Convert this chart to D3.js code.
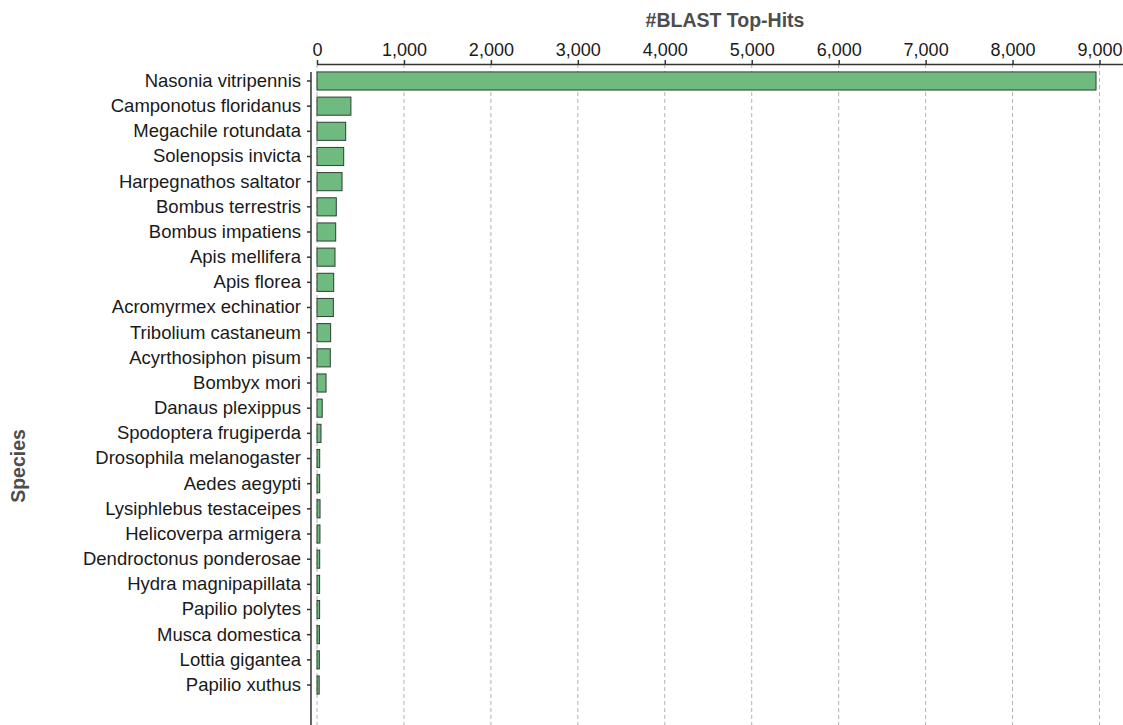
<!DOCTYPE html>
<html>
<head>
<meta charset="utf-8">
<script src="https://cdn.jsdelivr.net/npm/d3@7"></script>
<style>
  html, body { margin: 0; padding: 0; background: #fff; }
  svg { display: block; font-family: "Liberation Sans", Arial, sans-serif; }
</style>
</head>
<body>
<svg id="chart" width="1123" height="725"></svg>
<script>
// Species ordered by number of BLAST top hits
const species = [
  "Nasonia vitripennis", "Camponotus floridanus", "Megachile rotundata",
  "Solenopsis invicta", "Harpegnathos saltator", "Bombus terrestris",
  "Bombus impatiens", "Apis mellifera", "Apis florea", "Acromyrmex echinatior",
  "Tribolium castaneum", "Acyrthosiphon pisum", "Bombyx mori",
  "Danaus plexippus", "Spodoptera frugiperda", "Drosophila melanogaster",
  "Aedes aegypti", "Lysiphlebus testaceipes", "Helicoverpa armigera",
  "Dendroctonus ponderosae", "Hydra magnipapillata", "Papilio polytes",
  "Musca domestica", "Lottia gigantea", "Papilio xuthus"
];
const topHits = [
  8960, 390, 330, 307, 288, 222, 215, 207, 192, 188,
  157, 153, 104, 60, 46, 31, 31, 35, 34, 31,
  30, 30, 28, 27, 25
];
const xTicks = [0, 1000, 2000, 3000, 4000, 5000, 6000, 7000, 8000, 9000];

const svg = d3.select("#chart");
const W = 1123, H = 725;
const x0 = 317, x1 = 1099.5;
const axisY = 64, yAxisX = 311;

const x = d3.scaleLinear().domain([0, 9000]).range([x0, x1]);
const y = d3.scaleBand().domain(species).range([68.4, 697.6])
  .paddingInner(0.28).paddingOuter(0.14);

// dashed vertical grid
svg.append("g").selectAll("line").data(xTicks).join("line")
  .attr("x1", d => x(d)).attr("x2", d => x(d))
  .attr("y1", axisY).attr("y2", H)
  .attr("stroke", "#b3b3b3").attr("stroke-width", 1)
  .attr("stroke-dasharray", "4,3");

// bars
svg.append("g").selectAll("rect").data(species).join("rect")
  .attr("x", x(0))
  .attr("y", d => y(d))
  .attr("width", (d, i) => x(topHits[i]) - x(0))
  .attr("height", y.bandwidth())
  .attr("fill", "#6fba7e")
  .attr("stroke", "#2f3f33")
  .attr("stroke-width", 1);

// top axis
const gx = svg.append("g").attr("transform", `translate(0,${axisY})`)
  .call(d3.axisTop(x).tickValues(xTicks).tickFormat(d3.format(",")).tickSize(4).tickPadding(4).tickSizeOuter(0));
gx.select(".domain").remove();
gx.append("line").attr("x1", x0).attr("x2", W).attr("y1", 0.5).attr("y2", 0.5)
  .attr("stroke", "#333").attr("stroke-width", 1.5);
gx.selectAll(".tick line").attr("stroke", "#333").attr("stroke-width", 1.5);
gx.selectAll(".tick text").attr("font-size", 18).attr("fill", "#1a1a1a")
  .attr("font-family", "'Liberation Sans', Arial, sans-serif");

// left axis
const gy = svg.append("g").attr("transform", `translate(${yAxisX},0)`)
  .call(d3.axisLeft(y).tickSize(4).tickPadding(6).tickSizeOuter(0));
gy.select(".domain").remove();
gy.append("line").attr("x1", 0).attr("x2", 0).attr("y1", 72).attr("y2", H)
  .attr("stroke", "#333").attr("stroke-width", 1.5);
gy.selectAll(".tick line").attr("stroke", "#333").attr("stroke-width", 1.5);
gy.selectAll(".tick text").attr("font-size", 18.5).attr("fill", "#1a1a1a")
  .attr("font-family", "'Liberation Sans', Arial, sans-serif");

// axis titles
svg.append("text").attr("x", 725).attr("y", 27)
  .attr("text-anchor", "middle").attr("font-size", 19.5).attr("font-weight", "bold")
  .attr("fill", "#4d4d4d").text("#BLAST Top-Hits");
svg.append("text").attr("transform", "translate(25,466) rotate(-90)")
  .attr("text-anchor", "middle").attr("font-size", 19.5).attr("font-weight", "bold")
  .attr("fill", "#4d4d4d").text("Species");
</script>
</body>
</html>
